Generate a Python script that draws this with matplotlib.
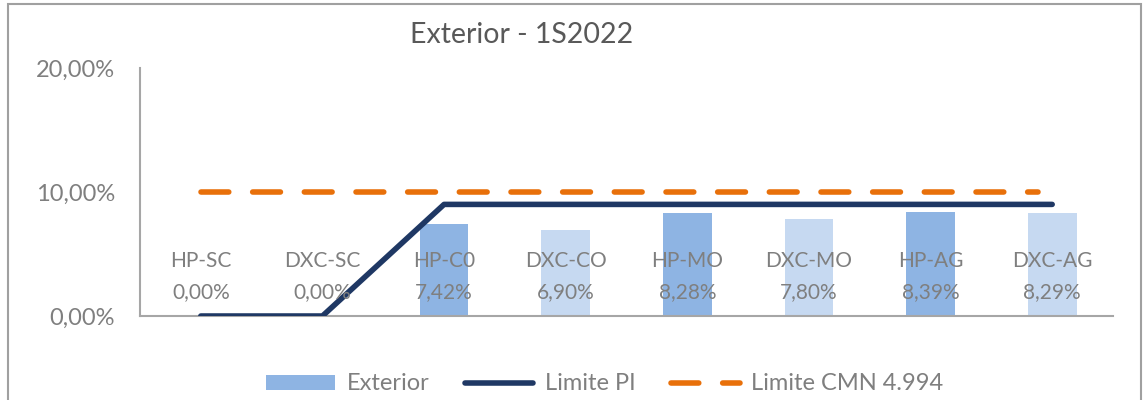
import matplotlib.pyplot as plt
from matplotlib.patches import Rectangle

plt.rcParams['font.family'] = ['Lato', 'DejaVu Sans']

categories = ['HP-SC', 'DXC-SC', 'HP-C0', 'DXC-CO', 'HP-MO', 'DXC-MO', 'HP-AG', 'DXC-AG']
exterior = [0.00, 0.00, 7.42, 6.90, 8.28, 7.80, 8.39, 8.29]
limite_pi = [0, 0, 9, 9, 9, 9, 9, 9]
limite_cmn = [10, 10, 10, 10, 10, 10, 10, 10]
y_ticks = [0, 10, 20]
y_labels = ['0,00%', '10,00%', '20,00%']

gray = '#7F7F7F'
bar_colors = ['#8EB4E3', '#C6D9F1'] * 4

fig = plt.figure(figsize=(11.44, 4.0), dpi=100)
fig.patches.append(Rectangle((8 / 1144, -0.1), 1133 / 1144, 1.09,
                             transform=fig.transFigure, fill=False,
                             edgecolor='#A0A0A0', linewidth=1.5))

ax = fig.add_axes([140 / 1144, 84 / 400, 973 / 1144, 248 / 400])
x = [i + 0.5 for i in range(len(categories))]

bars = ax.bar(x, exterior, width=0.4, color=bar_colors, label='Exterior', zorder=1)
pi_line, = ax.plot(x, limite_pi, color='#1F3864', linewidth=4, solid_capstyle='round',
                   label='Limite PI', zorder=3)
cmn_line, = ax.plot(x[:-1] + [x[-1] - 0.12], limite_cmn, color='#E8700A', linewidth=4,
                    dashes=(5, 4.3), dash_capstyle='round', label='Limite CMN 4.994', zorder=2)

for xi, cat, val in zip(x, categories, exterior):
    ax.text(xi, 4.4, cat, ha='center', va='center', fontsize=15, color=gray, zorder=4)
    ax.text(xi, 1.95, f'{val:.2f}%'.replace('.', ','), ha='center', va='center',
            fontsize=15, color=gray, zorder=4)

ax.set_xlim(0, 8)
ax.set_ylim(0, 20)
ax.set_xticks([])
ax.set_yticks(y_ticks)
ax.set_yticklabels(y_labels, fontsize=17, color=gray)
ax.tick_params(axis='y', length=0, pad=18)
for s in ['top', 'right']:
    ax.spines[s].set_visible(False)
for s in ['left', 'bottom']:
    ax.spines[s].set_color('#A6A6A6')
    ax.spines[s].set_linewidth(1.5)

fig.text(522 / 1144, 1 - 35 / 400, 'Exterior - 1S2022', ha='center', va='center',
         fontsize=20.5, color='#595959')

fig.legend([bars, pi_line, cmn_line], ['Exterior', 'Limite PI', 'Limite CMN 4.994'],
           loc='center', bbox_to_anchor=(605 / 1144, 1 - 384 / 400), ncol=3,
           frameon=False, fontsize=17, labelcolor=gray, handlelength=2.9,
           handleheight=0.6, columnspacing=1.5, handletextpad=0.5)

fig.savefig('out.png', dpi=100)
